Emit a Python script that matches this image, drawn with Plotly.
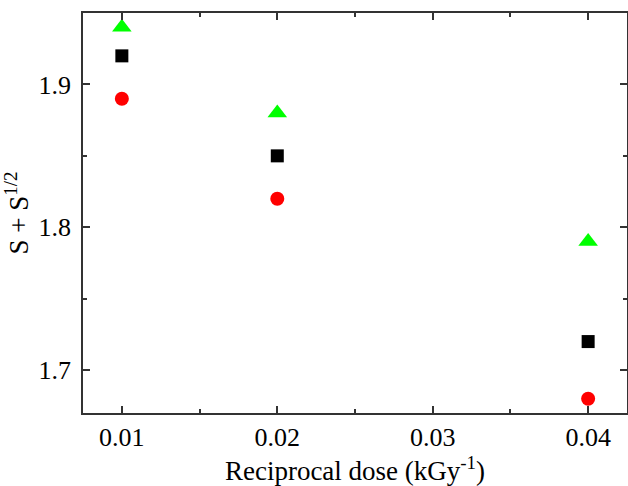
import plotly.graph_objects as go

x_vals = [0.01, 0.02, 0.04]
green_tri = [1.94, 1.88, 1.79]
black_sq = [1.92, 1.85, 1.72]
red_circ = [1.89, 1.82, 1.68]

x_ticks = [0.01, 0.02, 0.03, 0.04]
y_ticks = [1.7, 1.8, 1.9]

FONT = "Liberation Serif, Times New Roman, serif"

fig = go.Figure()
fig.add_trace(go.Scatter(x=x_vals, y=green_tri, mode="markers",
                         marker=dict(symbol="triangle-up", size=17, color="#00ff00"),
                         showlegend=False))
fig.add_trace(go.Scatter(x=x_vals, y=black_sq, mode="markers",
                         marker=dict(symbol="square", size=13, color="#000000"),
                         showlegend=False))
fig.add_trace(go.Scatter(x=x_vals, y=red_circ, mode="markers",
                         marker=dict(symbol="circle", size=14, color="#ff0000"),
                         showlegend=False))

axis_common = dict(
    showline=True, linecolor="#333333", linewidth=1.5, mirror="ticks",
    ticks="inside", ticklen=7, tickwidth=1.5, tickcolor="#333333",
    showgrid=False, zeroline=False, automargin=False,
    tickfont=dict(family=FONT, size=26, color="#000000"),
)

fig.update_xaxes(**axis_common, range=[0.0075, 0.0425],
                 tickvals=x_ticks, ticktext=[f"{v:.2f}" for v in x_ticks],
                 minor=dict(ticks="inside", ticklen=4, tickwidth=1.5, tickcolor="#333333", dtick=0.005),
                 title=dict(text="Reciprocal dose (kGy<sup>-1</sup>)",
                            font=dict(family=FONT, size=27, color="#000000"),
                            standoff=7))
fig.update_yaxes(**axis_common, range=[1.67, 1.95],
                 tickvals=y_ticks, ticktext=[f"{v:.1f}" for v in y_ticks],
                 ticklabelstandoff=5,
                 minor=dict(ticks="inside", ticklen=4, tickwidth=1.5, tickcolor="#333333", dtick=0.05),
                 title=dict(text="S + S<sup>1/2</sup>",
                            font=dict(family=FONT, size=27, color="#000000"),
                            standoff=12))

fig.update_layout(width=628, height=486,
                  margin=dict(l=83, r=1, t=13, b=73),
                  plot_bgcolor="white", paper_bgcolor="white")

fig.write_html("out.html", config={"displayModeBar": False},
               post_script="document.body.style.margin='0';document.body.style.overflow='hidden';")
